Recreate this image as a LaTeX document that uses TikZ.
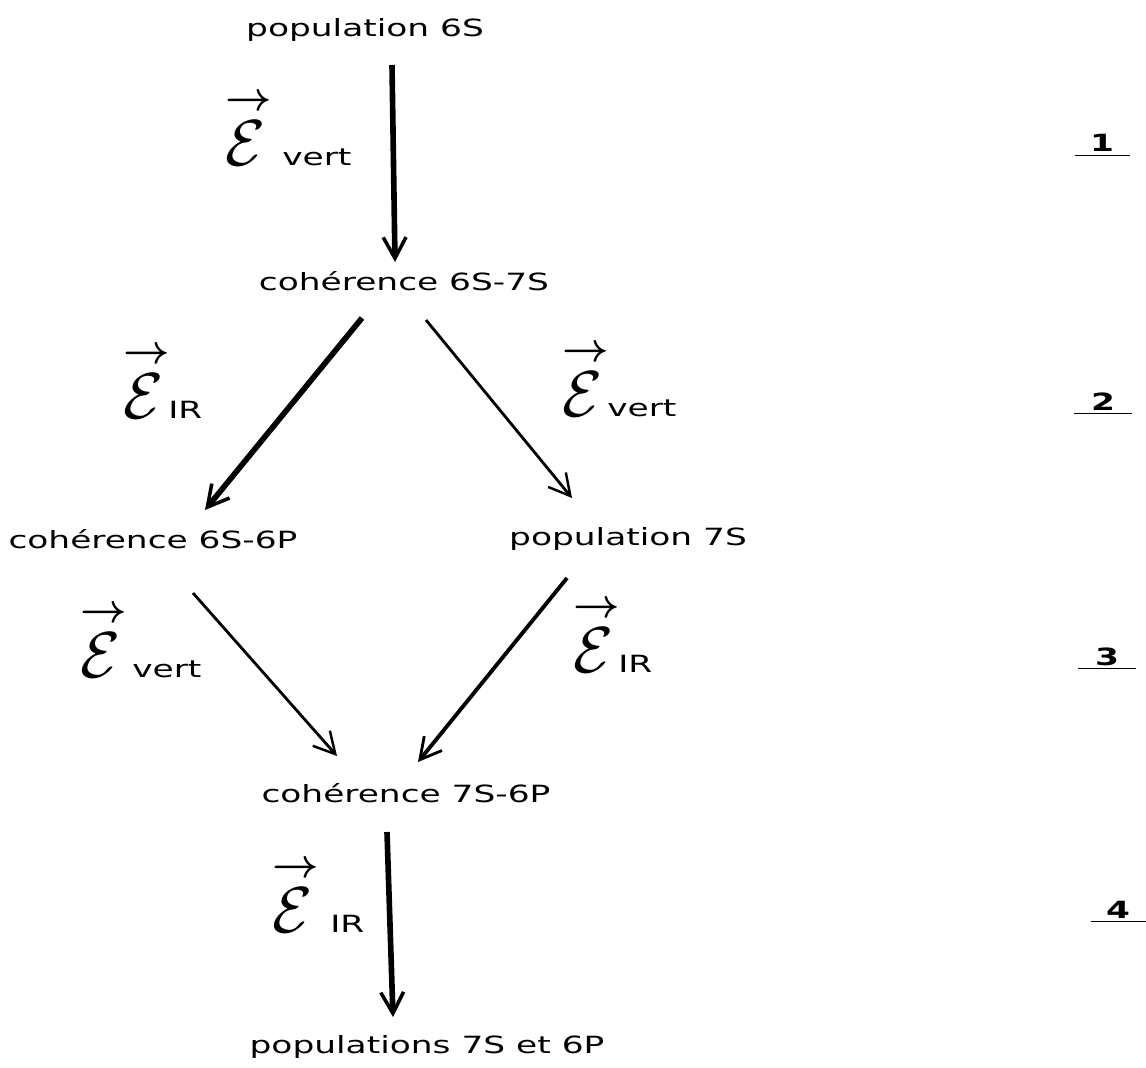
\documentclass[tikz,border=0pt]{standalone}
\usepackage{fontspec}
\usepackage{amsmath}
\newfontfamily\diafont[FakeStretch=1.45]{DejaVu Sans}
\usetikzlibrary{calc,arrows.meta}
\newcommand{\Evec}{\makebox[8mm][l]{\fontsize{10}{12}\selectfont\rlap{\raisebox{31pt}{\scalebox{2.3}{$\boldsymbol{\rightarrow}$}}}\scalebox{3.7}{$\mathcal{E}$}}}
\newcommand{\elab}[2]{\Evec\hspace{#1}#2}

\begin{document}
\begin{tikzpicture}[x=0.02cm,y=-0.02cm,
	txt/.style={inner sep=0pt,anchor=base,font=\diafont\fontsize{13.5}{15}\selectfont},
	lab/.style={inner sep=0pt,anchor=base west,font=\diafont\fontsize{13.5}{15}\selectfont},
	num/.style={inner sep=0pt,anchor=base,font=\diafont\bfseries\fontsize{13.5}{15}\selectfont},
	fat/.style={line width=3.2pt,-{Straight Barb[length=12pt,width=13pt,line width=2pt]}},
	mid/.style={line width=2.2pt,-{Straight Barb[length=12pt,width=13pt,line width=1.6pt]}},
	thin/.style={line width=1.6pt,-{Straight Barb[length=12pt,width=13pt,line width=1.4pt]}}]
		%%%%% START %%%%%
		\useasboundingbox (0,0) rectangle (1146,1068);
		
		% states
		\node[txt] (pop6s) at (365,37) {population 6S};
		\node[txt] (coh67) at (404,290) {cohérence 6S-7S};
		\node[txt] (coh66) at (153,548) {cohérence 6S-6P};
		\node[txt] (pop7s) at (628,545) {population 7S};
		\node[txt] (coh76) at (406,802) {cohérence 7S-6P};
		\node[txt] (popfin) at (427,1053) {populations 7S et 6P};
		
		% fields
		\node[lab] (f1) at (225,165) {\elab{3.4mm}{vert}};
		\node[lab] (f2l) at (123,418) {\elab{1mm}{IR}};
		\node[lab] (f2r) at (562,416) {\elab{1mm}{vert}};
		\node[lab] (f3l) at (80,677) {\elab{2.4mm}{vert}};
		\node[lab] (f3r) at (573,672) {\elab{1mm}{IR}};
		\node[lab] (f4) at (272,932) {\elab{3.6mm}{IR}};
		
		% steps
		\node[num] (n1) at (1102,152) {\underline{\makebox[11mm]{1}}};
		\node[num] (n2) at (1103,410) {\underline{\makebox[11.5mm]{2}}};
		\node[num] (n3) at (1107,665) {\underline{\makebox[11.5mm]{3}}};
		\node[num] (n4) at (1118,918) {\underline{\makebox[11mm]{4}}};
		
		% arrows
		\draw[fat] ($(pop6s.base)+(27,28)$) -- ($(coh67.base)+(-9,-28)$);
		\draw[fat] ($(coh67.base)+(-42,28)$) -- ($(coh66.base)+(52,-38)$);
		\draw[thin] ($(coh67.base)+(22,30)$) -- ($(pop7s.base)+(-56,-47)$);
		\draw[thin] ($(coh66.base)+(40,45)$) -- ($(coh76.base)+(-69,-46)$);
		\draw[mid] ($(pop7s.base)+(-61,33)$) -- ($(coh76.base)+(12,-40)$);
		\draw[fat] ($(coh76.base)+(-19,30)$) -- ($(popfin.base)+(-34,-36)$);
		
		%%%%% END %%%%%
\end{tikzpicture}
\end{document}
